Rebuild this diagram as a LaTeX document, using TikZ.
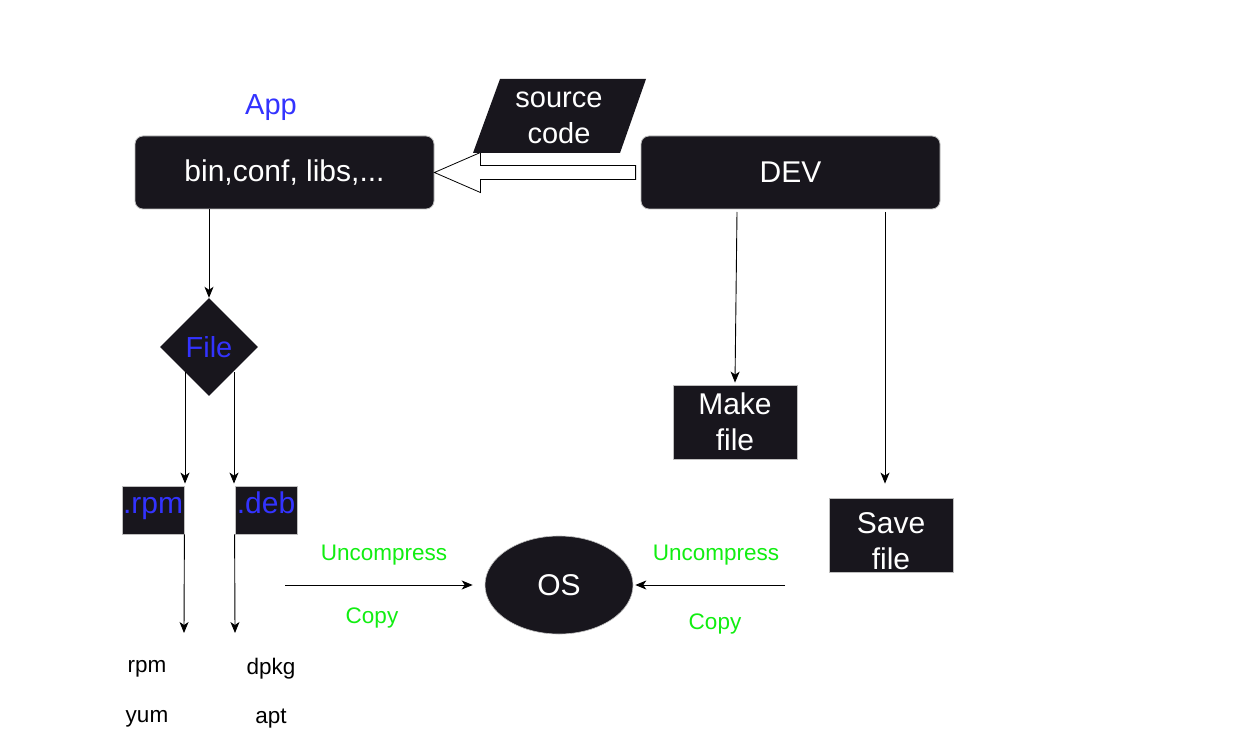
\documentclass[tikz,border=0pt]{standalone}
\usepackage{fontspec}
\setmainfont{Liberation Sans}
\usetikzlibrary{shapes.geometric,arrows.meta,calc}
\definecolor{dk}{HTML}{18161D}
\definecolor{bl}{HTML}{3333FF}
\definecolor{gr}{HTML}{11EE11}
\begin{document}
\begin{tikzpicture}[x=1pt,y=-1pt,
 box/.style={fill=dk,draw=gray!50,line width=0.8pt,text=white,font=\fontsize{30}{36}\selectfont,align=center,inner sep=0pt},
 rbox/.style={box,rounded corners=8pt},
 lbl/.style={font=\fontsize{22.5}{26}\selectfont,inner sep=0pt},
 glbl/.style={lbl,text=gr},
 arr/.style={-{Stealth[length=11pt,width=9pt,inset=3pt]},line width=0.9pt}
]
\useasboundingbox[fill=white] (0,0) rectangle (1245,738);
% top boxes
\node[rbox,minimum width=299pt,minimum height=73pt] (app) at (284.5,172.5) {bin,conf, libs,...};
\node[rbox,minimum width=299pt,minimum height=73pt] (dev) at (790.5,172.5) {DEV};
\node[text=bl,font=\fontsize{29}{34}\selectfont,inner sep=0pt] (apptitle) at (271,108) {App};
% hollow arrow
\draw[fill=white,line width=0.8pt] (app.east) -- ($(app.east)+(46,-20)$) -- ($(app.east)+(46,-7)$)
  -- ($(dev.west)+(-5,-7)$) -- ($(dev.west)+(-5,7)$) -- ($(app.east)+(46,7)$) -- ($(app.east)+(46,20)$) -- cycle;
% source code parallelogram
\fill[dk] (500,79) -- (646,79) -- (620,153) -- (473,153) -- cycle;
\node[text=white,font=\fontsize{29}{36}\selectfont,align=center,inner sep=0pt] (src) at (559,118) {source\\code};
% diamond
\node[diamond,fill=dk,minimum width=98pt,minimum height=98pt,inner sep=0pt,text=bl,font=\fontsize{29}{34}\selectfont] (file) at (209,347) {File};
\draw[arr] (app.south -| file.north) -- (file.north);
% rpm / deb
\node[box,text=bl,minimum width=62pt,minimum height=48pt,text height=12pt,text depth=6pt] (rpm) at (153,510) {.rpm};
\node[box,text=bl,minimum width=62pt,minimum height=48pt,text height=12pt,text depth=6pt] (deb) at (266,510) {.deb};
\coordinate (f1) at ($(file.center)+(-24,25)$);
\coordinate (f2) at ($(file.center)+(25,25)$);
\draw[arr] (f1) -- ($(f1 |- rpm.north)+(0,-2)$);
\draw[arr] (f2) -- ($(f2 |- deb.north)+(0,-2)$);
\coordinate (r2) at (184,633);
\coordinate (d2) at (235,633);
\draw[arr] (rpm.south east) -- (r2);
\draw[arr] (deb.south west) -- (d2);
\node[lbl] (trpm) at (147,669) {rpm};
\node[lbl] (tdpkg) at (271,669) {dpkg};
\node[lbl] (tyum) at (147,719) {yum};
\node[lbl] (tapt) at (271,719) {apt};
% OS
\node[ellipse,fill=dk,draw=gray!50,line width=0.6pt,minimum width=148pt,minimum height=98pt,inner sep=0pt,text=white,font=\fontsize{30}{34}\selectfont] (os) at (559,585) {OS};
\coordinate (l1) at (285,585);
\coordinate (r1) at (785,585);
\draw[arr,shorten >=12pt] (l1) -- (os.west);
\draw[arr,shorten >=2pt] (r1) -- (os.east);
\node[glbl] (u1) at (384,555) {Uncompress};
\node[glbl] (c1) at (372,618) {Copy};
\node[glbl] (u2) at (716,555) {Uncompress};
\node[glbl] (c2) at (715,624) {Copy};
% make / save
\node[box,minimum width=124pt,minimum height=74pt] (make) at (735,422) {Make\\file};
\node[box,minimum width=124pt,minimum height=74pt] (save) at (891,535) {};
\node[text=white,font=\fontsize{30}{36}\selectfont,align=center,inner sep=0pt] (savetxt) at (891,541) {Save\\file};
\coordinate (d1) at (737,212);
\coordinate (s1) at (885,212);
\draw[arr] (d1) -- ($(make.north)+(0,-2)$);
\draw[arr] (s1) -- ($(s1 |- save.north)+(0,-14)$);
\end{tikzpicture}
\end{document}
